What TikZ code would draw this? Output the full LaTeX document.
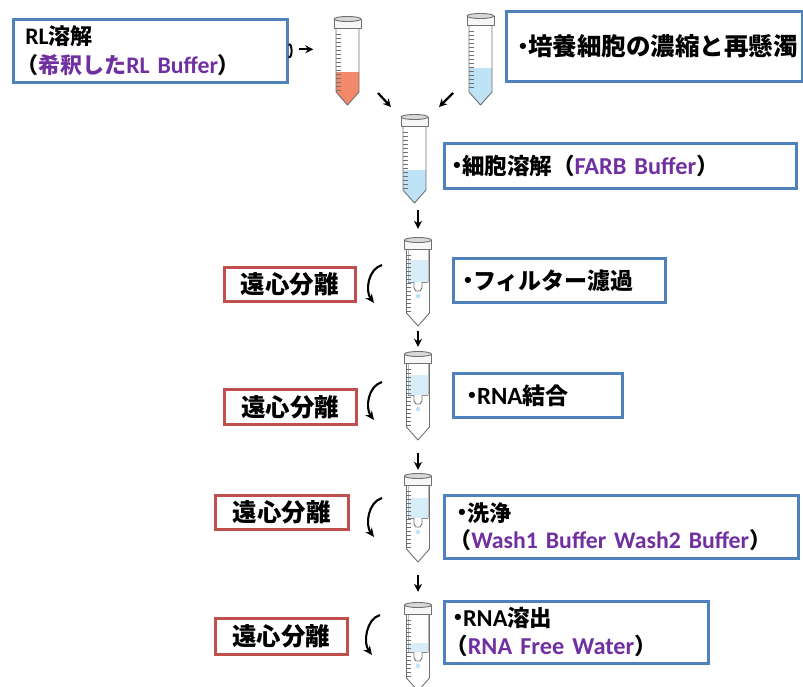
\documentclass[tikz,border=0pt]{standalone}
\usepackage{fontspec}
\setmainfont{Carlito}[Scale=1.08]
\newfontfamily\jp{Noto Sans CJK JP}
\usetikzlibrary{arrows.meta}

\definecolor{boxblue}{HTML}{4F81BD}
\definecolor{boxred}{HTML}{C0504D}
\definecolor{buf}{HTML}{7030A0}
\definecolor{redliq}{HTML}{F2896B}
\definecolor{blueliq}{HTML}{BFE3F6}
\definecolor{filtliq}{HTML}{D8EDF8}
\definecolor{tubegray}{HTML}{707070}

\newcommand\jb[1]{{\jp\bfseries #1}}
\newcommand\bufname[1]{{\color{buf}#1}}
% small list bullet
\newcommand\dotb{\leavevmode\raisebox{5pt}{\fontsize{13.5}{13.5}\selectfont•}\kern1.5pt}
% pull a full-width opening bracket back to the margin
\newcommand\lpar{\leavevmode\kern-9pt\jb{（}}

% centrifuge tube: centre x, top y, tip y, liquid colour, liquid top y
\newcommand\drawtube[5]{%
  \path[fill=#4] ({#1-11.5},#5) -- ({#1+11.5},#5) -- ({#1+11.5},{#3-13}) -- (#1,#3) -- ({#1-11.5},{#3-13}) -- cycle;
  \foreach \k in {0,...,14} \draw[tick] ({#1-11.5},{#2+17+\k*4}) -- ++(4.5,0);
  \draw[tubeline] ({#1-11.5},{#2+10}) -- ({#1-11.5},{#3-13}) -- (#1,#3) -- ({#1+11.5},{#3-13}) -- ({#1+11.5},{#2+10});
  \draw[tubeline, fill=gray!6] ({#1-13.5},{#2+2}) rectangle ({#1+13.5},{#2+11});
  \draw[tubeline, fill=gray!30] (#1,{#2+2}) ellipse [x radius=13.5pt, y radius=2.5pt];
}
% filter insert: centre x, top y, liquid top y, filter y
\newcommand\drawfilter[4]{%
  \fill[filtliq] ({#1-10},#3) rectangle ({#1+10},#4);
  \draw[tubegray!50, line width=0.5pt] ({#1-10},{#2+11}) -- ({#1-10},#4) ({#1+10},{#2+11}) -- ({#1+10},#4);
  \draw[tubegray!80, line width=0.9pt] ({#1-10},#4) -- ({#1+10},#4);
  \draw[tubeline, fill=white] ({#1-4},#4) -- ({#1-4},{#4+6}) -- ({#1-2},{#4+9}) -- ({#1+2},{#4+9}) -- ({#1+4},{#4+6}) -- ({#1+4},#4);
  \fill[blueliq] (#1,{#4+14}) ellipse [x radius=2pt, y radius=2.6pt];
}

\tikzset{
  tubeline/.style={draw=tubegray, line width=0.9pt, line join=round},
  tick/.style={draw=tubegray, line width=0.5pt},
  tubenode/.style={inner sep=0pt, minimum width=28pt},
  bluebox/.style={draw=boxblue, line width=2.6pt, fill=white, anchor=north west,
    align=left, inner ysep=0pt, font=\bfseries},
  redbox/.style={draw=boxred, line width=2.6pt, fill=white, anchor=north west,
    align=center, inner sep=0pt, font=\fontsize{24.5}{28}\selectfont\bfseries},
  arr/.style={-{Stealth[length=8pt,width=8pt]}, line width=2.2pt},
  spin/.style={-{Stealth[length=9pt,width=8pt]}, line width=2.1pt},
}

\begin{document}
\begin{tikzpicture}[x=1pt,y=-1pt]
\useasboundingbox (0,0) rectangle (803,686);

% ---- tubes ----
\drawtube{347.5}{17}{105}{redliq}{72}
\node[tubenode, minimum height=88pt] (tr) at (347.5,61) {};
\drawtube{480.5}{14}{105}{blueliq}{68}
\node[tubenode, minimum height=91pt] (tb) at (480.5,59.5) {};
\drawtube{414.5}{115}{203}{blueliq}{170}
\node[tubenode, minimum height=88pt] (tm) at (414.5,159) {};

\drawfilter{418}{238}{260}{282}
\drawtube{418}{238}{326}{none}{326}
\node[tubenode, minimum height=88pt] (t2) at (418,282) {};
\drawfilter{418}{352}{375}{395}
\drawtube{418}{352}{440}{none}{440}
\node[tubenode, minimum height=88pt] (t3) at (418,396) {};
\drawfilter{418}{474}{498}{518}
\drawtube{418}{474}{562}{none}{562}
\node[tubenode, minimum height=88pt] (t4) at (418,518) {};
\drawfilter{418}{603}{643}{652}
\drawtube{418}{603}{691}{none}{691}
\node[tubenode, minimum height=88pt] (t5) at (418,647) {};

% ---- step boxes ----
\node[bluebox, minimum width=274pt, minimum height=63pt, inner xsep=12pt, text width=250pt,
      font=\fontsize{22}{29}\selectfont\bfseries] (b1) at (12,18)
  {RL\jb{溶解}\\\lpar\bufname{\jb{希釈した}RL Buffer}\jb{）}};
\node[bluebox, minimum width=296pt, minimum height=70pt, inner xsep=13pt, text width=270pt,
      font=\fontsize{24.5}{28}\selectfont\bfseries] (b2) at (505,10)
  {\dotb\jb{培養細胞の濃縮と再懸濁}};
\node[bluebox, minimum width=352pt, minimum height=45pt, inner xsep=9pt, text width=334pt,
      font=\fontsize{22.5}{25}\selectfont\bfseries] (b3) at (443,142)
  {\dotb\jb{細胞溶解（}\bufname{FARB Buffer}\jb{）}};
\node[bluebox, minimum width=212pt, minimum height=44pt, inner xsep=11pt, text width=190pt,
      font=\fontsize{23}{26}\selectfont\bfseries] (b4) at (452,257)
  {\dotb\jb{フィルター濾過}};
\node[bluebox, minimum width=169pt, minimum height=44pt, inner xsep=15pt, text width=139pt,
      font=\fontsize{23}{26}\selectfont\bfseries] (b5) at (452,372)
  {\dotb RNA\jb{結合}};
\node[bluebox, minimum width=354pt, minimum height=63pt, inner xsep=14pt, text width=326pt,
      font=\fontsize{22}{27}\selectfont\bfseries] (b6) at (443,494)
  {\dotb\jb{洗浄}\\\lpar\bufname{Wash1 Buffer Wash2 Buffer}\jb{）}};
\node[bluebox, minimum width=264pt, minimum height=62pt, inner xsep=10pt, text width=244pt,
      font=\fontsize{22.5}{28}\selectfont\bfseries] (b7) at (443,600)
  {\dotb RNA\jb{溶出}\\\lpar\bufname{RNA Free Water}\jb{）}};

\node[redbox, minimum width=131pt, minimum height=34pt] (r1) at (223,266) {\jb{遠心分離}};
\node[redbox, minimum width=132pt, minimum height=35pt] (r2) at (223,388) {\jb{遠心分離}};
\node[redbox, minimum width=133pt, minimum height=34pt] (r3) at (214,494) {\jb{遠心分離}};
\node[redbox, minimum width=132pt, minimum height=36pt] (r4) at (214,617) {\jb{遠心分離}};

% ---- flow arrows ----
\draw[line width=2pt] ([yshift=6pt]b1.east) .. controls +(4,-3) and +(4,3) .. ([yshift=-6pt]b1.east);
\draw[arr, shorten <=10pt, shorten >=20pt] ([yshift=1.5pt]b1.east) -- ([yshift=1.5pt]b1.east -| tr.west);

\coordinate (da1) at (378,93);  \coordinate (da2) at (391,107);
\coordinate (db1) at (453,93);  \coordinate (db2) at (439,107);
\draw[arr] (da1) -- (da2);
\draw[arr] (db1) -- (db2);

\draw[arr, shorten <=7pt, shorten >=9pt] (tm.south -| t2.north) -- (t2.north);
\draw[arr, shorten <=5pt, shorten >=5pt] (t2.south) -- (t3.north);
\draw[arr, shorten <=13pt, shorten >=4pt] (t3.south) -- (t4.north);
\draw[arr, shorten <=13pt, shorten >=11pt] (t4.south) -- (t5.north);

% ---- spin symbols ----
\coordinate (s1a) at (382,265); \coordinate (s1b) at (374,303);
\coordinate (s2a) at (382,382); \coordinate (s2b) at (374,420);
\coordinate (s3a) at (382,498); \coordinate (s3b) at (374,537);
\coordinate (s4a) at (380,615); \coordinate (s4b) at (372,655);
\foreach \s in {1,...,4}
  \draw[spin] (s\s a) .. controls +(-14,4) and +(-9,-12) .. (s\s b);
\end{tikzpicture}
\end{document}
